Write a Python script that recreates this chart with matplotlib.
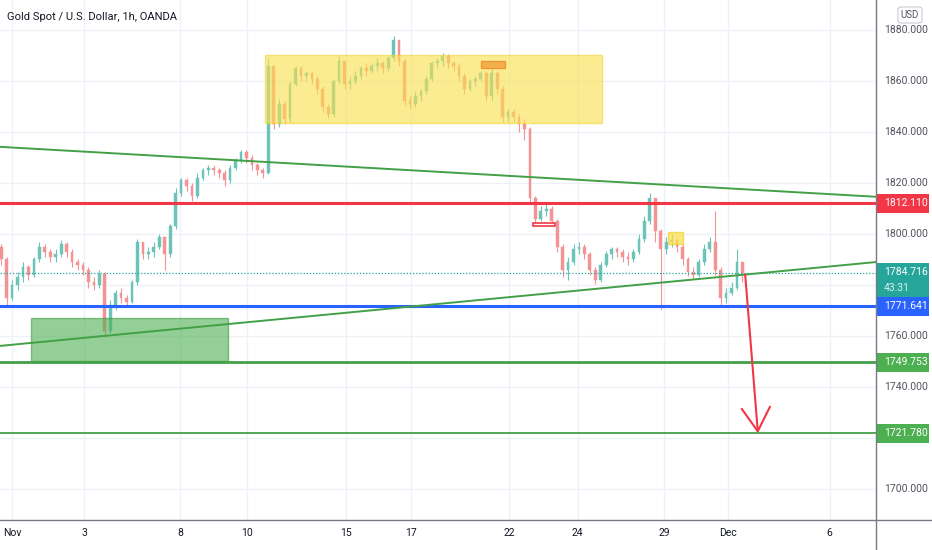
import numpy as np
import matplotlib
matplotlib.use("Agg")
import matplotlib.pyplot as plt
from matplotlib.patches import Rectangle, FancyBboxPatch
from matplotlib.lines import Line2D
import matplotlib.transforms as mtransforms

plt.rcParams['font.family'] = ['Roboto', 'DejaVu Sans']

# --- data: 4-hour candles (trading-day index on x) ---
t0 = -0.33
step = 1.0 / 6
first_open = 1795.0
closes = [1790, 1775, 1780, 1783, 1787, 1784, 1790, 1795, 1793, 1791,
          1792, 1796, 1793, 1789, 1788, 1786, 1781, 1780, 1784.5, 1762,
          1772, 1777, 1775, 1773.5, 1781, 1797, 1792, 1793, 1795, 1799,
          1792, 1803, 1816, 1821, 1819, 1815, 1822, 1825, 1826, 1825,
          1824, 1821, 1826, 1829, 1832, 1830, 1827, 1825, 1824, 1866,
          1843, 1851, 1845, 1859, 1865, 1862, 1863, 1861, 1857, 1850,
          1847, 1860, 1868, 1859, 1860, 1862, 1865, 1864, 1866, 1867,
          1865, 1869, 1876, 1868, 1852, 1851, 1854, 1856, 1861, 1867,
          1868, 1870, 1867, 1866, 1862, 1857, 1860, 1861, 1863, 1854,
          1863, 1857, 1846, 1848, 1846, 1843, 1841, 1814, 1806, 1809,
          1810, 1805, 1795, 1786, 1789, 1794, 1795, 1792, 1786, 1782,
          1788, 1792, 1794, 1793, 1791, 1790, 1793, 1798, 1805, 1814,
          1801, 1794, 1797, 1797.5, 1795, 1790, 1785, 1784, 1789, 1794,
          1797, 1786, 1775, 1777, 1779, 1789, 1784.7]
highs = [1796, 1791, 1782, 1785, 1789, 1788, 1791, 1797, 1796, 1794,
         1794, 1797.5, 1797, 1794, 1790, 1789, 1787, 1783, 1786, 1785,
         1774, 1778, 1779, 1776, 1782, 1798, 1797, 1795, 1797, 1800,
         1799, 1804, 1818, 1822, 1822, 1820, 1824, 1826, 1827, 1827,
         1826, 1825, 1827, 1830, 1833, 1833, 1831, 1828, 1826, 1869,
         1866, 1853, 1852, 1860, 1866, 1866, 1864, 1864, 1862, 1858,
         1851, 1861, 1870, 1868, 1862, 1864, 1866, 1867, 1867, 1869,
         1868, 1870, 1877.5, 1876, 1869, 1854, 1856, 1857, 1862, 1868,
         1869, 1871, 1870.5, 1868, 1867, 1863, 1861, 1862, 1864, 1864,
         1865, 1864, 1858, 1849, 1849, 1847, 1845, 1842, 1815, 1811,
         1812, 1811, 1806, 1796, 1791, 1796, 1797, 1796, 1793, 1787,
         1789, 1793.5, 1795, 1795, 1794, 1793, 1794, 1800, 1807, 1816,
         1814, 1802, 1799, 1800, 1798, 1796, 1791, 1787, 1790, 1796,
         1799, 1809, 1787, 1779, 1781, 1794, 1789]
lows = [1788, 1771.5, 1774, 1778, 1781, 1782, 1783, 1789, 1791, 1789,
        1789, 1791, 1791, 1787, 1786, 1784, 1779, 1778, 1779, 1759.6,
        1761, 1770, 1773, 1772, 1773, 1780, 1790, 1790, 1791, 1794,
        1786, 1791, 1802, 1815, 1817, 1813, 1814, 1821, 1823, 1823,
        1822, 1819, 1820, 1825, 1828, 1828, 1825, 1823, 1822, 1823.5,
        1841, 1842, 1843, 1844, 1858, 1860, 1860, 1859, 1855, 1848,
        1845.5, 1846, 1859, 1857, 1857, 1859, 1861, 1862, 1863, 1864,
        1863, 1864, 1868, 1866, 1850.5, 1849.5, 1850, 1852, 1855, 1860,
        1865, 1866, 1865, 1864, 1860, 1855, 1856, 1858, 1860, 1852,
        1852, 1855, 1844, 1844, 1844, 1840, 1837, 1812, 1804, 1805,
        1807, 1803, 1793, 1783, 1782, 1788, 1792, 1790, 1784, 1780.5,
        1781, 1787, 1790, 1791, 1789, 1788, 1789, 1792, 1797, 1804,
        1797, 1770.5, 1792, 1795, 1793, 1788, 1783.5, 1782.5, 1783, 1788,
        1793, 1784, 1772, 1773, 1776, 1778, 1781]

last_price = 1784.716
countdown = "43:31"

# horizontal levels
levels = [1812.110, 1771.641, 1749.753, 1721.780]
level_colors = ['#f23645', '#2962ff', '#43a047', '#43a047']
level_widths = [2.2, 2.2, 2.0, 1.3]

# trendlines (time, price)
trend_down = [(-0.37, 1834.2), (26.42, 1814.6)]
trend_up = [(-0.37, 1756.1), (26.42, 1789.0)]

# boxes: (t_start, t_end, p_low, p_high)
box_range = (7.74, 18.04, 1843.5, 1870.2)
box_orange = (14.34, 15.08, 1865.1, 1867.8)
box_small_yellow = (20.06, 20.52, 1796.1, 1800.8)
box_red = (15.93, 16.60, 1803.1, 1804.3)
box_demand = (0.58, 6.60, 1750.2, 1767.0)

# projection arrow
arrow_from = (22.42, 1784.0)
arrow_to = (22.81, 1721.8)

tick_pos = [0, 2.2, 5.15, 7.2, 10.2, 12.2, 15.2, 17.3, 19.95, 21.9, 25.0]
tick_lab = ['Nov', '3', '8', '10', '15', '17', '22', '24', '29', 'Dec', '6']
price_grid = [1700, 1720, 1740, 1760, 1780, 1800, 1820, 1840, 1860, 1880]
# 1780 and 1720 sit under the coloured price tags, so they are not printed
price_labels = [1700, 1740, 1760, 1800, 1820, 1840, 1860, 1880]

up_col = '#6cc4b8'
dn_col = '#f39393'
txt_col = '#131722'
grid_col = '#eef1f6'

fig = plt.figure(figsize=(9.32, 5.50), dpi=100)
ax = fig.add_axes([0, 30 / 550, 876 / 932, 520 / 550])
ax.set_xlim(-0.367, 26.42)
ax.set_ylim(1687.8, 1891.8)
for s in ax.spines.values():
    s.set_visible(False)

# grid
for p in price_grid:
    ax.axhline(p, color=grid_col, lw=1, zorder=0)
for t in tick_pos:
    ax.axvline(t, color=grid_col, lw=1, zorder=0)

# candles
n = len(closes)
times = t0 + step * np.arange(n)
opens = [first_open] + closes[:-1]
for t, o, h, l, c in zip(times, opens, highs, lows, closes):
    col = up_col if c >= o else dn_col
    ax.vlines(t, l, h, color=col, lw=0.8, zorder=2)
    ax.bar(t, max(abs(c - o), 0.4), bottom=min(o, c), width=step * 0.5,
           color=col, edgecolor=col, lw=0.3, zorder=3)

# current price dotted
ax.axhline(last_price, color='#26a69a', lw=0.9, ls=(0, (1, 1.5)), zorder=4)

# boxes
def box(b, fc, ec, alpha, lw=1.0):
    ax.add_patch(Rectangle((b[0], b[2]), b[1] - b[0], b[3] - b[2],
                           facecolor=fc, edgecolor=ec, alpha=alpha, lw=lw, zorder=5))

box(box_range, '#fae14f', '#f2d43a', 0.62)
box(box_orange, '#f5a340', '#e8912a', 0.85)
box(box_small_yellow, '#fae14f', '#f2d43a', 0.75)
box(box_demand, '#4caf50', '#3d9a40', 0.6)
ax.add_patch(Rectangle((box_red[0], box_red[2]), box_red[1] - box_red[0],
                       box_red[3] - box_red[2], facecolor='white',
                       edgecolor='#f23645', lw=1.2, zorder=5))

# levels and trendlines
for p, c, w in zip(levels, level_colors, level_widths):
    ax.axhline(p, color=c, lw=w, zorder=6)
for tl in (trend_down, trend_up):
    ax.plot([tl[0][0], tl[1][0]], [tl[0][1], tl[1][1]], color='#43a047', lw=1.4, zorder=6)

ax.annotate('', xy=arrow_to, xytext=arrow_from,
            arrowprops=dict(arrowstyle='->,head_length=1.0,head_width=0.6',
                            color='#f23645', lw=1.5, mutation_scale=17,
                            shrinkA=0, shrinkB=0), zorder=7)

# x ticks
ax.set_xticks(tick_pos)
ax.set_xticklabels(tick_lab, fontsize=7.5, color=txt_col)
ax.tick_params(axis='x', length=0, pad=6)
ax.set_yticks([])

# price scale labels
trans = mtransforms.blended_transform_factory(ax.transAxes, ax.transData)
for p in price_labels:
    ax.text(1.0092, p, f'{p:.3f}', transform=trans, fontsize=7.5, color='#50535e',
            va='center', ha='left', clip_on=False, zorder=8)

bw = 53 / 876
label_boxes = [(1812.110, '#f23645', f'{levels[0]:.3f}'),
               (1771.641, '#2962ff', f'{levels[1]:.3f}'),
               (1749.753, '#4caf50', f'{levels[2]:.3f}'),
               (1721.780, '#4caf50', f'{levels[3]:.3f}')]
for p, c, s in label_boxes:
    ax.add_patch(Rectangle((1.0, p - 3.7), bw, 7.4, transform=trans,
                           facecolor=c, edgecolor='none', clip_on=False, zorder=9))
    ax.text(1.0092, p, s, transform=trans, fontsize=7.5, color='white',
            va='center', ha='left', clip_on=False, zorder=10)
ax.add_patch(Rectangle((1.0, last_price - 9.5), bw, 13.3, transform=trans,
                       facecolor='#26a69a', edgecolor='none', clip_on=False, zorder=9))
ax.text(1.0092, last_price + 0.3, f'{last_price:.3f}', transform=trans, fontsize=7.5,
        color='white', va='center', ha='left', clip_on=False, zorder=10)
ax.text(1.0092, last_price - 6.0, countdown, transform=trans, fontsize=7.5,
        color='#d8f0ec', va='center', ha='left', clip_on=False, zorder=10)

# USD badge
fig.add_artist(FancyBboxPatch((898 / 932, 1 - 23 / 550), 24 / 932, 16 / 550,
                              boxstyle='round,pad=0,rounding_size=0.004',
                              transform=fig.transFigure, facecolor='white',
                              edgecolor='#c9ccd4', lw=0.8, zorder=11))
fig.text(910 / 932, 1 - 15 / 550, 'USD', fontsize=7, color='#50535e',
         ha='center', va='center', zorder=12)

# title
fig.text(7 / 932, 1 - 17 / 550, 'Gold Spot / U.S. Dollar, 1h, OANDA',
         fontsize=8, color=txt_col, ha='left', va='center')

# scale separators
fig.add_artist(Line2D([0, 1], [30 / 550, 30 / 550], transform=fig.transFigure,
                      color='#787b86', lw=1))
fig.add_artist(Line2D([876 / 932, 876 / 932], [0, 1], transform=fig.transFigure,
                      color='#787b86', lw=1))

fig.savefig('out.png', dpi=100, facecolor='white')
